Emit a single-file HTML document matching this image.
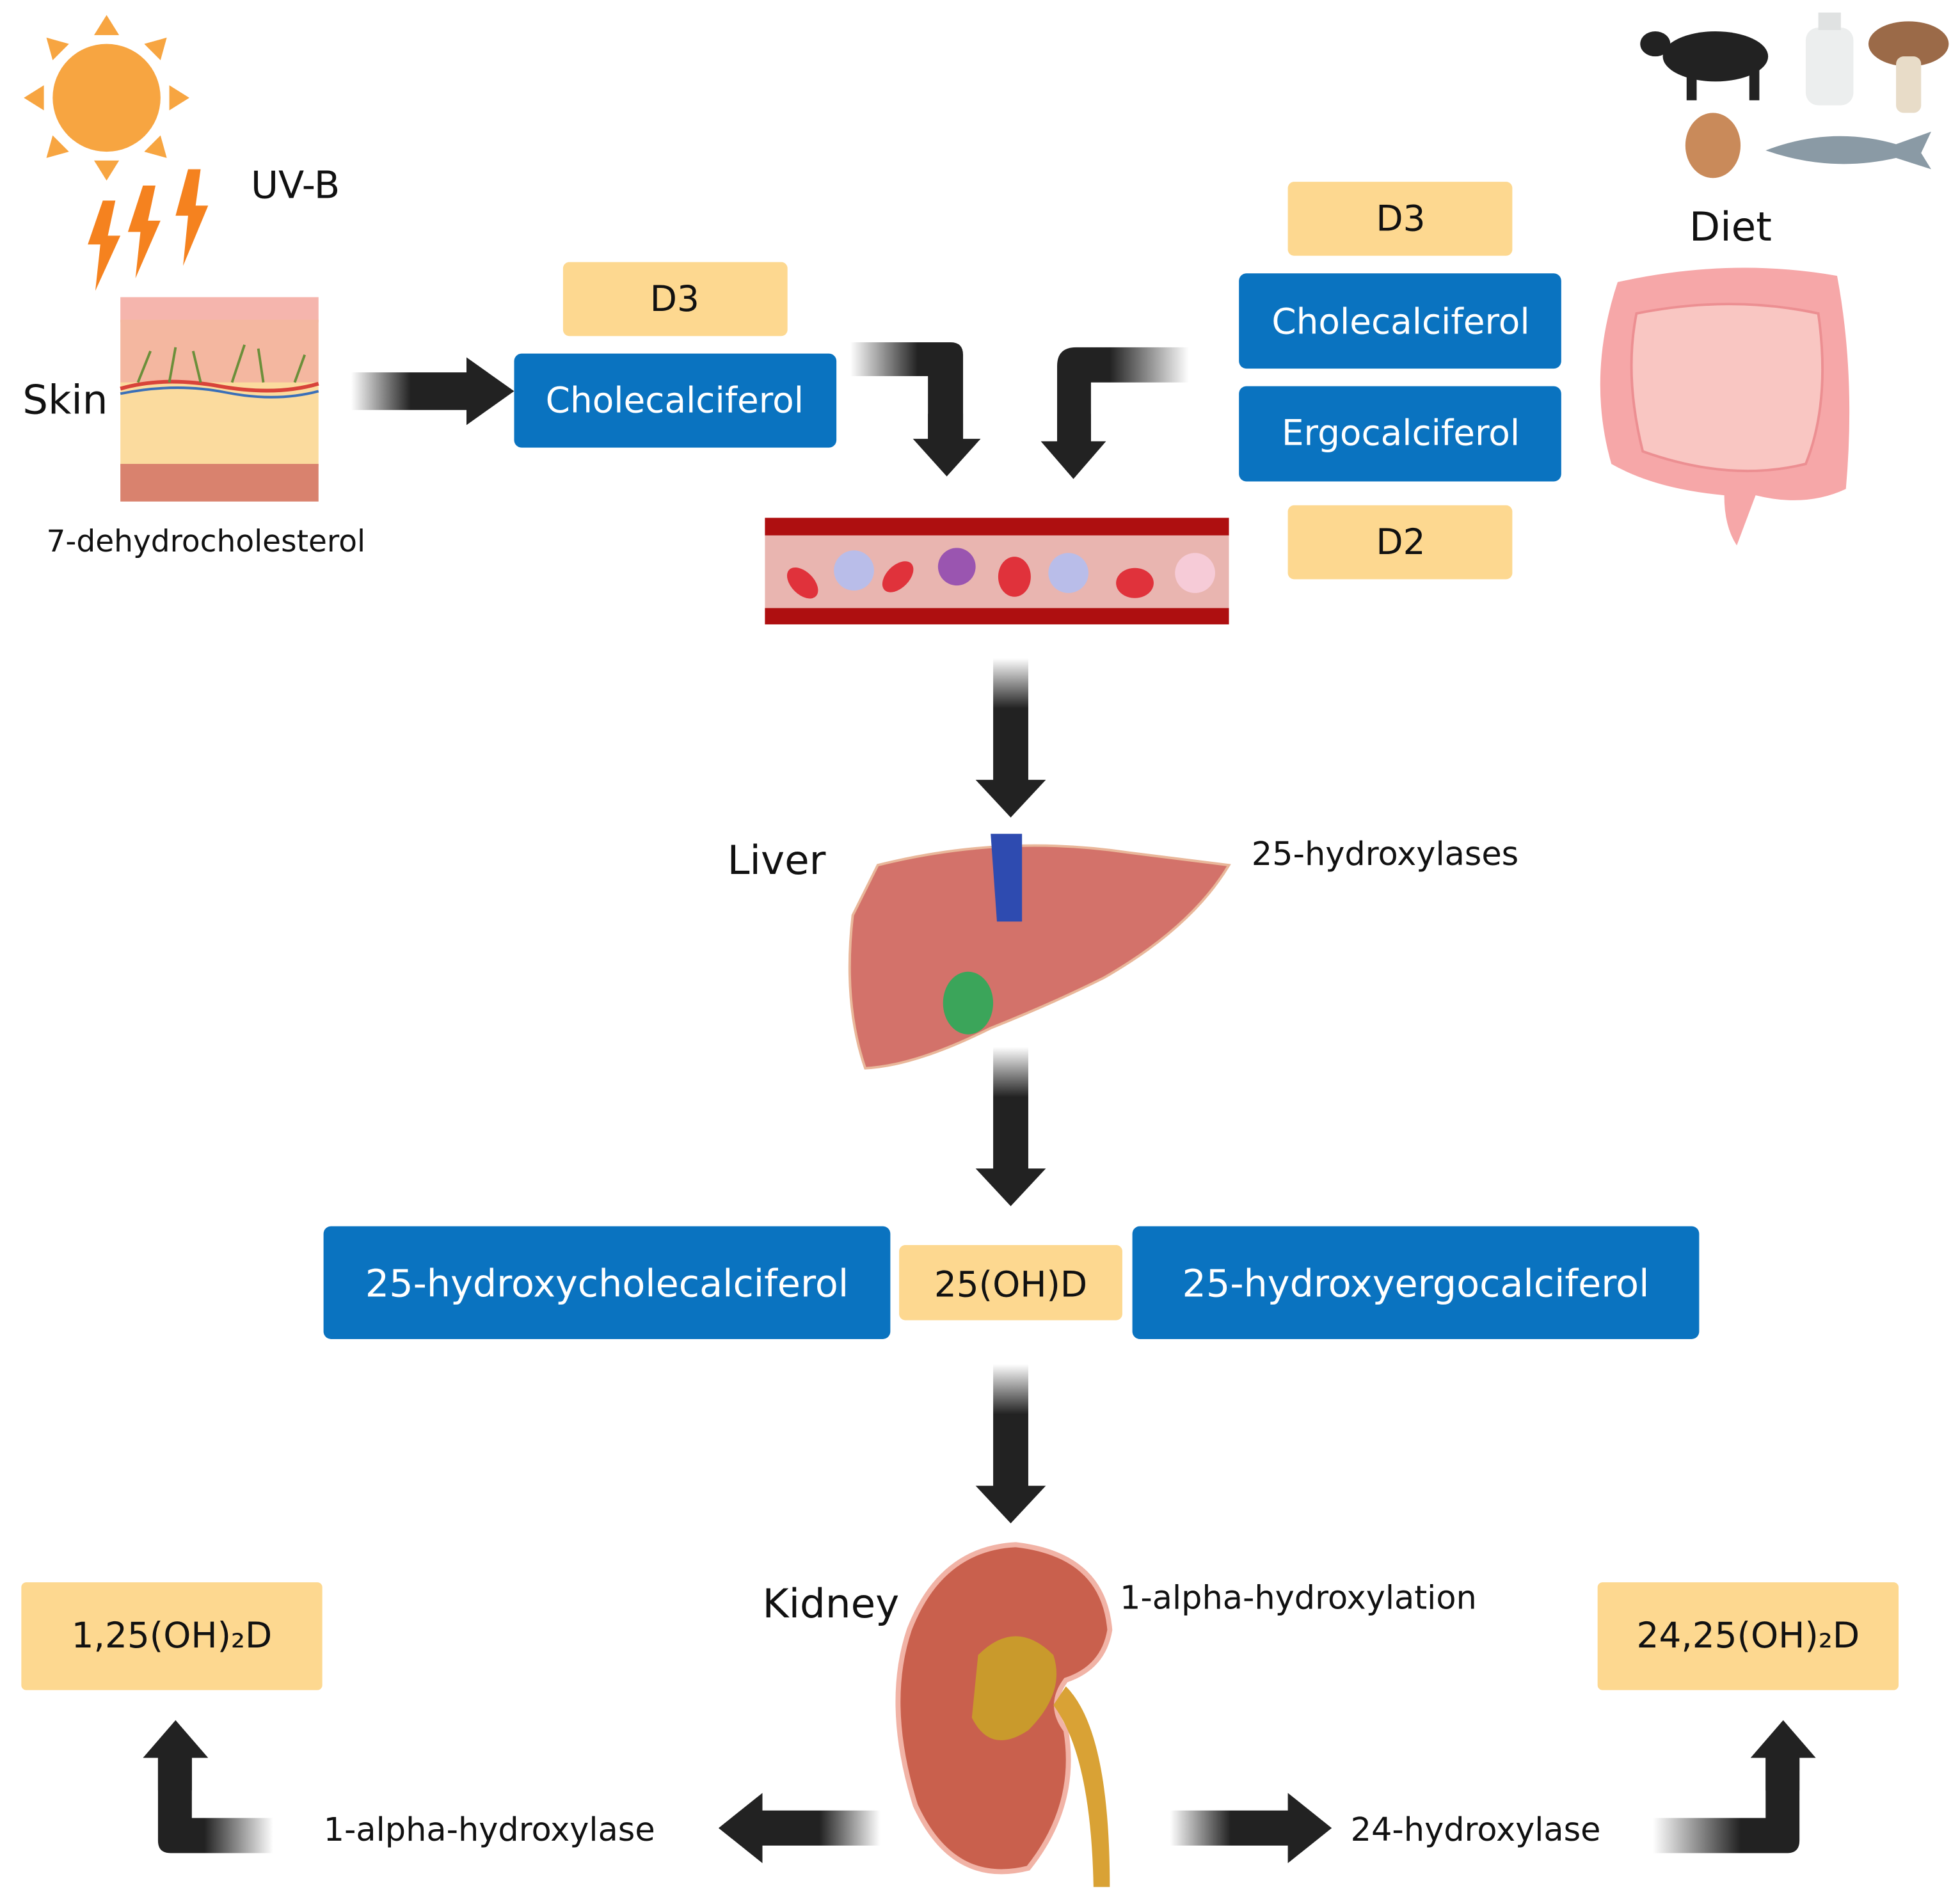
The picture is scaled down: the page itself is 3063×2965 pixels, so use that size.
<!DOCTYPE html>
<html><head><meta charset="utf-8"><style>html,body{margin:0;padding:0;background:#fff}svg{display:block}</style></head>
<body>
<svg width="3063" height="2965" viewBox="0 0 1563 1513" preserveAspectRatio="none" xmlns="http://www.w3.org/2000/svg" font-family="'DejaVu Sans','Liberation Sans',sans-serif">
<defs>
<linearGradient id="gR" x1="0" x2="1" y1="0" y2="0"><stop offset="0" stop-color="#222" stop-opacity="0"/><stop offset="0.5" stop-color="#222"/></linearGradient>
<linearGradient id="gL" x1="1" x2="0" y1="0" y2="0"><stop offset="0" stop-color="#222" stop-opacity="0"/><stop offset="0.5" stop-color="#222"/></linearGradient>
<linearGradient id="gD" x1="0" x2="0" y1="0" y2="1"><stop offset="0" stop-color="#222" stop-opacity="0"/><stop offset="0.4" stop-color="#222"/></linearGradient>
<linearGradient id="gE1" x1="0" x2="1"><stop offset="0" stop-color="#222" stop-opacity="0"/><stop offset="0.6" stop-color="#222"/></linearGradient>
<linearGradient id="gE2" x1="1" x2="0"><stop offset="0" stop-color="#222" stop-opacity="0"/><stop offset="0.6" stop-color="#222"/></linearGradient>
</defs>
<rect width="1563" height="1513" fill="#fff"/>
<!-- sun -->
<circle cx="85" cy="78" r="43" fill="#f7a541"/>
<g fill="#f7a541">
<polygon points="75,28 95,28 85,12"/><polygon points="75,128 95,128 85,144"/>
<polygon points="35,68 35,88 19,78"/><polygon points="135,68 135,88 151,78"/>
<polygon points="42,48 55,35 37,30"/><polygon points="128,48 115,35 133,30"/>
<polygon points="42,108 55,121 37,126"/><polygon points="128,108 115,121 133,126"/>
</g>
<g fill="#f5821f">
<polygon points="82,160 70,195 80,195 76,232 96,188 86,188 92,160"/>
<polygon points="114,148 102,185 112,185 108,222 128,176 118,176 124,148"/>
<polygon points="150,135 140,172 150,172 146,212 166,164 156,164 160,135"/>
</g>
<text x="200" y="158" font-size="30" fill="#111">UV-B</text>
<!-- skin -->
<rect x="96" y="237" width="158" height="20" fill="#f5b5ad"/>
<rect x="96" y="255" width="158" height="52" fill="#f4b7a0"/>
<rect x="96" y="305" width="158" height="67" fill="#fbdb9e"/>
<rect x="96" y="370" width="158" height="30" fill="#d9826e"/>
<path d="M96 310 Q130 300 175 308 T254 306" stroke="#d8433a" stroke-width="3" fill="none"/>
<path d="M96 314 Q140 305 180 313 T254 312" stroke="#3a6fb8" stroke-width="2" fill="none"/>
<path d="M110 305 l10 -25 M135 305 l5 -28 M160 305 l-6 -25 M185 305 l10 -30 M210 305 l-4 -27 M235 305 l8 -22" stroke="#6b8f3a" stroke-width="2"/>
<text x="18" y="330" font-size="32" fill="#111">Skin</text>
<text x="37" y="440" font-size="24" fill="#111">7-dehydrocholesterol</text>
<!-- arrow skin -> chole -->
<rect x="280" y="297" width="95" height="30" fill="url(#gR)"/>
<polygon points="372,285 410,312 372,339" fill="#222"/>
<!-- D3 & chole left -->
<rect x="449" y="209" width="179" height="59" rx="5" fill="#fdd890"/>
<text x="538" y="248" font-size="28" text-anchor="middle" fill="#111">D3</text>
<rect x="410" y="282" width="257" height="75" rx="6" fill="#0a73c0"/>
<text x="538" y="329" font-size="28" text-anchor="middle" fill="#fff">Cholecalciferol</text>
<!-- elbow arrows -->
<path d="M678 273 H758 Q768 273 768 283 V355 H740 V300 H678 Z" fill="url(#gE1)"/>
<path d="M740 330 H768 V350 L782 350 L755 380 L728 350 L740 350Z" fill="#222"/>
<path d="M948 277 H858 Q843 277 843 292 V355 H870 V305 H948 Z" fill="url(#gE2)"/>
<path d="M843 330 H870 V352 L882 352 L856 382 L830 352 L843 352Z" fill="#222"/>
<!-- right boxes -->
<rect x="1027" y="145" width="179" height="59" rx="5" fill="#fdd890"/>
<text x="1117" y="184" font-size="28" text-anchor="middle" fill="#111">D3</text>
<rect x="988" y="218" width="257" height="76" rx="6" fill="#0a73c0"/>
<text x="1117" y="266" font-size="28" text-anchor="middle" fill="#fff">Cholecalciferol</text>
<rect x="988" y="308" width="257" height="76" rx="6" fill="#0a73c0"/>
<text x="1117" y="355" font-size="28" text-anchor="middle" fill="#fff">Ergocalciferol</text>
<rect x="1027" y="403" width="179" height="59" rx="5" fill="#fdd890"/>
<text x="1117" y="442" font-size="28" text-anchor="middle" fill="#111">D2</text>
<!-- diet -->
<text x="1380" y="192" font-size="32" text-anchor="middle" fill="#111">Diet</text>
<ellipse cx="1368" cy="45" rx="42" ry="20" fill="#222"/><rect x="1345" y="55" width="8" height="25" fill="#222"/><rect x="1395" y="55" width="8" height="25" fill="#222"/><ellipse cx="1320" cy="35" rx="12" ry="10" fill="#222"/>
<rect x="1440" y="22" width="38" height="62" rx="10" fill="#eceeee"/><rect x="1450" y="10" width="18" height="14" fill="#e0e2e2"/>
<ellipse cx="1522" cy="35" rx="32" ry="18" fill="#9b6a48"/><rect x="1512" y="45" width="20" height="45" rx="6" fill="#e8dcc8"/>
<ellipse cx="1366" cy="116" rx="22" ry="26" fill="#c98a5a"/>
<path d="M1408 120 Q1460 100 1512 115 L1540 105 L1532 122 L1540 135 L1512 126 Q1460 138 1408 120Z" fill="#8a9aa5"/>
<!-- intestine -->
<path d="M1290 225 Q1380 205 1465 220 Q1480 300 1472 390 Q1440 405 1400 395 L1385 435 Q1375 420 1375 395 Q1320 390 1285 370 Q1265 300 1290 225Z" fill="#f6a7a8"/>
<path d="M1305 250 Q1380 235 1450 250 Q1460 320 1440 370 Q1380 385 1310 360 Q1295 300 1305 250Z" fill="#f9c6c2" stroke="#ec8f92" stroke-width="2"/>
<!-- blood vessel -->
<rect x="610" y="413" width="370" height="85" fill="#e9b5b0"/>
<rect x="610" y="413" width="370" height="14" fill="#ae0f10"/>
<rect x="610" y="485" width="370" height="13" fill="#ae0f10"/>
<g fill="#e0323b"><ellipse cx="640" cy="465" rx="9" ry="15" transform="rotate(-45 640 465)"/><ellipse cx="716" cy="460" rx="9" ry="15" transform="rotate(45 716 460)"/><ellipse cx="809" cy="460" rx="13" ry="16"/><ellipse cx="905" cy="465" rx="15" ry="12"/></g>
<circle cx="681" cy="455" r="16" fill="#b9bde9"/><circle cx="763" cy="452" r="15" fill="#9a55b0"/><circle cx="852" cy="457" r="16" fill="#b9bde9"/><circle cx="953" cy="457" r="16" fill="#f6cbd7"/>
<!-- down arrow 1 -->
<rect x="792" y="525" width="28" height="100" fill="url(#gD)"/>
<polygon points="778,622 834,622 806,652" fill="#222"/>
<!-- liver -->
<text x="580" y="697" font-size="32" fill="#111">Liver</text>
<path d="M700 690 Q800 665 900 680 L980 690 Q950 740 880 780 Q840 800 790 820 Q730 850 690 852 Q672 800 680 730Z" fill="#d3726a" stroke="#e9b79a" stroke-width="2"/>
<path d="M790 665 h25 v70 h-20 z" fill="#2e4bb0"/>
<ellipse cx="772" cy="800" rx="20" ry="25" fill="#3ba55a"/>
<text x="998" y="690" font-size="26" fill="#111">25-hydroxylases</text>
<!-- down arrow 2 -->
<rect x="792" y="835" width="28" height="100" fill="url(#gD)"/>
<polygon points="778,932 834,932 806,962" fill="#222"/>
<!-- 25OH row -->
<rect x="258" y="978" width="452" height="90" rx="6" fill="#0a73c0"/>
<text x="484" y="1034" font-size="30" text-anchor="middle" fill="#fff">25-hydroxycholecalciferol</text>
<rect x="717" y="993" width="178" height="60" rx="5" fill="#fdd890"/>
<text x="806" y="1034" font-size="28" text-anchor="middle" fill="#111">25(OH)D</text>
<rect x="903" y="978" width="452" height="90" rx="6" fill="#0a73c0"/>
<text x="1129" y="1034" font-size="30" text-anchor="middle" fill="#fff">25-hydroxyergocalciferol</text>
<!-- down arrow 3 -->
<rect x="792" y="1088" width="28" height="100" fill="url(#gD)"/>
<polygon points="778,1185 834,1185 806,1215" fill="#222"/>
<!-- kidney -->
<text x="608" y="1290" font-size="32" fill="#111">Kidney</text>
<path d="M810 1232 Q880 1240 885 1300 Q880 1330 850 1340 Q835 1360 850 1380 Q860 1440 820 1490 Q760 1505 730 1440 Q705 1360 725 1300 Q750 1235 810 1232Z" fill="#c9604d" stroke="#f1b3a6" stroke-width="4"/>
<path d="M780 1320 Q810 1290 840 1320 Q850 1350 820 1380 Q790 1400 775 1370 Z" fill="#c99a2c"/>
<path d="M850 1345 Q885 1380 885 1505 L872 1505 Q870 1400 840 1360Z" fill="#d9a235"/>
<text x="893" y="1283" font-size="26" fill="#111">1-alpha-hydroxylation</text>
<!-- side boxes -->
<rect x="17" y="1262" width="240" height="86" rx="4" fill="#fdd890"/>
<text x="137" y="1314" font-size="28" text-anchor="middle" fill="#111">1,25(OH)₂D</text>
<rect x="1274" y="1262" width="240" height="86" rx="4" fill="#fdd890"/>
<text x="1394" y="1314" font-size="28" text-anchor="middle" fill="#111">24,25(OH)₂D</text>
<!-- bottom arrows -->
<rect x="605" y="1444" width="97" height="28" fill="url(#gL)"/>
<polygon points="608,1430 608,1486 573,1458" fill="#222"/>
<rect x="933" y="1444" width="97" height="28" fill="url(#gR)"/>
<polygon points="1027,1430 1027,1486 1062,1458" fill="#222"/>
<text x="258" y="1468" font-size="26" fill="#111">1-alpha-hydroxylase</text>
<text x="1077" y="1468" font-size="26" fill="#111">24-hydroxylase</text>
<!-- elbow bottom -->
<path d="M218 1450 H153 V1400 H126 V1468 Q126 1478 136 1478 H218Z" fill="url(#gE2)"/>
<polygon points="114,1402 166,1402 140,1372" fill="#222"/>
<rect x="126" y="1398" width="27" height="30" fill="#222"/>
<path d="M1318 1450 H1408 V1400 H1435 V1468 Q1435 1478 1425 1478 H1318Z" fill="url(#gE1)"/>
<polygon points="1396,1402 1448,1402 1422,1372" fill="#222"/>
<rect x="1408" y="1398" width="27" height="30" fill="#222"/>
</svg>
</body></html>
